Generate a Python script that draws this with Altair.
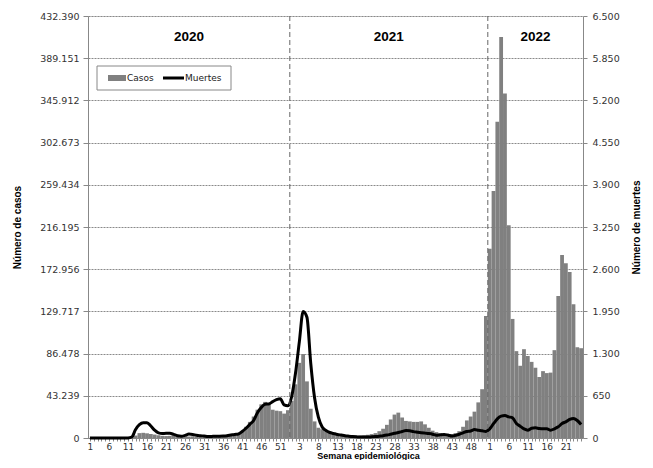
import altair as alt
import pandas as pd

years = ["2020", "2021", "2022"]
weeks_per_year = [53, 52, 25]

casos_2020 = [0, 0, 0, 0, 0, 0, 0, 0, 0, 0, 0, 300, 2500, 5000, 5300, 4800, 4200, 3500, 2800, 2200,
              2000, 2200, 2400, 2000, 1600, 1400, 1500, 1700, 1600, 1400, 1300, 1300, 1400, 1500, 1700,
              2000, 2500, 3000, 3800, 5000, 7000, 11500, 16500, 22000, 29000, 34500, 37000, 35500,
              29000, 28000, 27500, 25000, 28500]
casos_2021 = [38000, 55000, 77000, 86000, 58000, 30000, 17000, 10500, 9000, 7000, 6000, 5000, 4000,
              3200, 2800, 2500, 2300, 2300, 2500, 2800, 3300, 4000, 5000, 7000, 9500, 13500, 19000,
              24000, 26000, 21000, 17500, 17000, 16500, 16500, 17000, 14000, 10500, 7500, 6000, 5000,
              4000, 3500, 4000, 5000, 7000, 11500, 18000, 22000, 27000, 36500, 50000, 125000]
casos_2022 = [194000, 253000, 324000, 411000, 353000, 218000, 122000, 89000, 74000, 91000, 84000,
              78000, 72000, 62500, 68500, 66500, 67000, 90000, 145500, 187500, 179000, 170000,
              137000, 93000, 92000]

muertes_2020 = [0, 0, 0, 0, 0, 0, 0, 0, 0, 0, 0, 15, 130, 205, 235, 235, 185, 120, 80, 70, 72, 72,
                55, 35, 28, 40, 60, 55, 42, 35, 30, 22, 25, 28, 28, 30, 35, 45, 55, 62, 100, 150,
                210, 270, 390, 470, 520, 525, 560, 590, 605, 510, 495]
muertes_2021 = [640, 1000, 1480, 1950, 1860, 1150, 620, 320, 170, 115, 85, 70, 55, 45, 35, 28, 22,
                18, 15, 15, 15, 18, 22, 28, 35, 45, 58, 72, 85, 100, 115, 110, 98, 90, 82, 75, 68,
                58, 42, 48, 55, 45, 30, 40, 58, 80, 100, 108, 130, 120, 112, 100]
muertes_2022 = [140, 220, 295, 336, 346, 326, 311, 223, 182, 141, 120, 151, 157, 146, 141, 141,
                120, 141, 172, 223, 249, 285, 300, 269, 208]

tick_labels = ["1", "6", "11", "16", "21", "26", "31", "36", "41", "46", "51", "3", "8", "13",
               "18", "23", "28", "33", "38", "43", "48", "1", "6", "11", "16", "21"]
left_ticks = [0, 43239, 86478, 129717, 172956, 216195, 259434, 302673, 345912, 389151, 432390]
right_ticks = [0, 650, 1300, 1950, 2600, 3250, 3900, 4550, 5200, 5850, 6500]

casos = casos_2020 + casos_2021 + casos_2022
muertes = muertes_2020 + muertes_2021 + muertes_2022
n_total = len(casos)
idx = list(range(n_total))

df = pd.DataFrame({"idx": idx, "casos": casos, "muertes": muertes})

starts = [sum(weeks_per_year[:i]) for i in range(len(years))]
year_df = pd.DataFrame({
    "anio": years,
    "xc": [s + (n - 1) / 2 for s, n in zip(starts, weeks_per_year)],
})
bound_df = pd.DataFrame({"xb": [s - 0.5 for s in starts[1:]]})
one = pd.DataFrame({"a": [0]})

W, H = 495, 422
LBL_FONT = "DejaVu Sans"
TTL_FONT = "Liberation Sans"

x_scale = alt.Scale(domain=[-0.5, n_total - 0.5], nice=False, zero=False)
lbl_js = "[" + ",".join("'" + t + "'" for t in tick_labels) + "]"

x_axis = alt.Axis(
    values=idx,
    labelExpr=f"datum.value % 5 == 0 ? {lbl_js}[datum.value / 5] : ''",
    labelOverlap=False, labelFlush=False, labelBound=False,
    tickSize=3, tickColor="#888", domainColor="#888", grid=False,
    labelFont=LBL_FONT, labelFontSize=9, labelColor="#333", labelPadding=1,
    title="Semana epidemiológica", titleFont=TTL_FONT, titleFontSize=9,
    titleFontWeight="bold", titleColor="#000", titleX=280, titleY=20,
    titleAlign="center", titleBaseline="alphabetic",
)

fmt = "replace(format(datum.value, ','), ',', '.')"

bars = alt.Chart(df).transform_calculate(
    x0="datum.idx - 0.5", x1="datum.idx + 0.5"
).mark_bar(color="#808080").encode(
    x=alt.X("x0:Q", scale=x_scale, axis=x_axis),
    x2="x1:Q",
    y=alt.Y("casos:Q", scale=alt.Scale(domain=[0, 432390], nice=False),
            axis=alt.Axis(values=left_ticks, labelExpr=fmt, orient="left",
                          grid=True, gridDash=[2, 1], gridColor="#8a8a8a", gridWidth=1,
                          tickSize=5, tickColor="#888", domainColor="#888",
                          labelFont=LBL_FONT, labelFontSize=9.5, labelColor="#333",
                          labelPadding=4,
                          title="Número de casos", titleFont=TTL_FONT, titleFontSize=10,
                          titleFontWeight="bold", titleColor="#000",
                          titleX=-71, titleY=H / 2, titleAngle=270,
                          titleAlign="center", titleBaseline="middle")),
    y2=alt.datum(0),
)

line = alt.Chart(df).mark_line(color="#000", strokeWidth=3, interpolate="monotone").encode(
    x=alt.X("idx:Q", scale=x_scale, axis=x_axis),
    y=alt.Y("muertes:Q", scale=alt.Scale(domain=[0, 6500], nice=False),
            axis=alt.Axis(values=right_ticks, labelExpr=fmt, orient="right",
                          grid=False, tickSize=4, tickColor="#888", domainColor="#888",
                          labelFont=LBL_FONT, labelFontSize=9.5, labelColor="#333",
                          labelPadding=5,
                          title="Número de muertes", titleFont=TTL_FONT, titleFontSize=10,
                          titleFontWeight="bold", titleColor="#000",
                          titleX=53, titleY=H / 2, titleAngle=270,
                          titleAlign="center", titleBaseline="middle")),
)

bounds = alt.Chart(bound_df).mark_rule(color="#666", strokeDash=[5, 3], strokeWidth=1).encode(
    x=alt.X("xb:Q", scale=x_scale, axis=x_axis),
    y=alt.value(0), y2=alt.value(H),
)

year_txt = alt.Chart(year_df).mark_text(
    font=TTL_FONT, fontSize=13.5, fontWeight="bold", color="#000", baseline="middle"
).encode(
    x=alt.X("xc:Q", scale=x_scale, axis=x_axis),
    y=alt.value(21),
    text="anio:N",
)

leg_box = alt.Chart(one).mark_rect(fill="white", stroke="#888", strokeWidth=1).encode(
    x=alt.value(9), x2=alt.value(143), y=alt.value(50), y2=alt.value(74)
)
leg_sw = alt.Chart(one).mark_rect(fill="#808080").encode(
    x=alt.value(20), x2=alt.value(38), y=alt.value(59), y2=alt.value(65)
)
leg_t1 = alt.Chart(one).mark_text(font=LBL_FONT, fontSize=9, color="#222", align="left",
                                  baseline="middle").encode(
    x=alt.value(39), y=alt.value(62), text=alt.value("Casos")
)
leg_ln = alt.Chart(one).mark_rule(color="#000", strokeWidth=3).encode(
    x=alt.value(75), x2=alt.value(96), y=alt.value(62)
)
leg_t2 = alt.Chart(one).mark_text(font=LBL_FONT, fontSize=9, color="#222", align="left",
                                  baseline="middle").encode(
    x=alt.value(97), y=alt.value(62), text=alt.value("Muertes")
)

chart = alt.layer(
    bars, line, bounds, year_txt, leg_box, leg_sw, leg_t1, leg_ln, leg_t2
).resolve_scale(y="independent").properties(
    width=W, height=H,
    padding={"left": 80, "top": 8, "right": 62, "bottom": 22},
    autosize="none",
).configure_view(stroke=None).configure(background="white")

chart.save("out.html", embed_options={"renderer": "svg", "actions": False})
